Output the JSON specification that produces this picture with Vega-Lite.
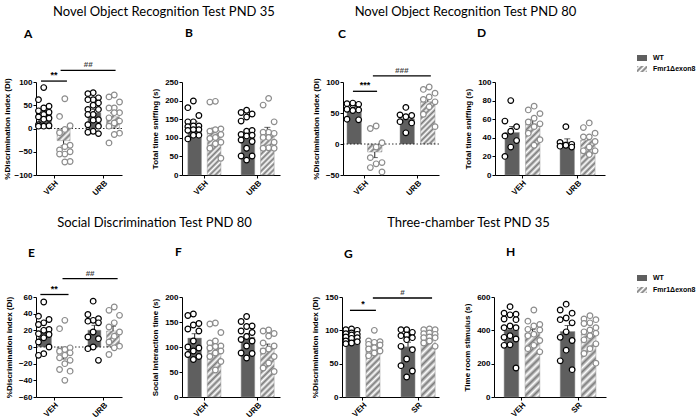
{
"$schema":"https://vega.github.io/schema/vega-lite/v6.json",
"padding":{"left":3,"top":6,"right":0,"bottom":0},
"config":{"view":{"stroke":null},
"axis":{"domainColor":"#000","domainWidth":1,"tickColor":"#000","tickSize":3,"labelColor":"#000","labelFont":"Liberation Sans","labelFontSize":8,"labelFontWeight":"bold","labelPadding":1,"titleFont":"Liberation Sans","titleFontSize":8,"titleFontWeight":"bold","titleColor":"#000","titlePadding":2,"grid":false,"labelOverlap":false},
"axisY":{"minExtent":21},
"axisX":{"labelAngle":-45,"labelAlign":"right","labelBaseline":"top"},
"title":{"font":"Lato","fontSize":13,"fontWeight":"normal","color":"#000","anchor":"middle","offset":8}},
"datasets":{
"A":[{"d":"VEH","g":"WT","v":88},{"d":"VEH","g":"WT","v":62},{"d":"VEH","g":"WT","v":48},{"d":"VEH","g":"WT","v":44},{"d":"VEH","g":"WT","v":38},{"d":"VEH","g":"WT","v":35},{"d":"VEH","g":"WT","v":30},{"d":"VEH","g":"WT","v":25},{"d":"VEH","g":"WT","v":22},{"d":"VEH","g":"WT","v":20},{"d":"VEH","g":"WT","v":8},{"d":"VEH","g":"WT","v":5},{"d":"VEH","g":"WT","v":5},{"d":"VEH","g":"WT","v":6},
{"d":"VEH","g":"KO","v":64},{"d":"VEH","g":"KO","v":26},{"d":"VEH","g":"KO","v":6},{"d":"VEH","g":"KO","v":-2},{"d":"VEH","g":"KO","v":-9},{"d":"VEH","g":"KO","v":-36},{"d":"VEH","g":"KO","v":-39},{"d":"VEH","g":"KO","v":-46},{"d":"VEH","g":"KO","v":-50},{"d":"VEH","g":"KO","v":-55},{"d":"VEH","g":"KO","v":-55},{"d":"VEH","g":"KO","v":-71},{"d":"VEH","g":"KO","v":-72},
{"d":"URB","g":"WT","v":77},{"d":"URB","g":"WT","v":75},{"d":"URB","g":"WT","v":66},{"d":"URB","g":"WT","v":62},{"d":"URB","g":"WT","v":62},{"d":"URB","g":"WT","v":55},{"d":"URB","g":"WT","v":50},{"d":"URB","g":"WT","v":41},{"d":"URB","g":"WT","v":41},{"d":"URB","g":"WT","v":30},{"d":"URB","g":"WT","v":30},{"d":"URB","g":"WT","v":19},{"d":"URB","g":"WT","v":18},{"d":"URB","g":"WT","v":8},{"d":"URB","g":"WT","v":5},{"d":"URB","g":"WT","v":-6},{"d":"URB","g":"WT","v":-8},{"d":"URB","g":"WT","v":-11},
{"d":"URB","g":"KO","v":72},{"d":"URB","g":"KO","v":68},{"d":"URB","g":"KO","v":57},{"d":"URB","g":"KO","v":44},{"d":"URB","g":"KO","v":44},{"d":"URB","g":"KO","v":34},{"d":"URB","g":"KO","v":34},{"d":"URB","g":"KO","v":23},{"d":"URB","g":"KO","v":16},{"d":"URB","g":"KO","v":12},{"d":"URB","g":"KO","v":5},{"d":"URB","g":"KO","v":-10},{"d":"URB","g":"KO","v":-13},{"d":"URB","g":"KO","v":-31}],
"B":[{"d":"VEH","g":"WT","v":199},{"d":"VEH","g":"WT","v":181},{"d":"VEH","g":"WT","v":160},{"d":"VEH","g":"WT","v":143},{"d":"VEH","g":"WT","v":143},{"d":"VEH","g":"WT","v":132},{"d":"VEH","g":"WT","v":130},{"d":"VEH","g":"WT","v":132},{"d":"VEH","g":"WT","v":122},{"d":"VEH","g":"WT","v":120},{"d":"VEH","g":"WT","v":122},{"d":"VEH","g":"WT","v":107},{"d":"VEH","g":"WT","v":107},{"d":"VEH","g":"WT","v":97},
{"d":"VEH","g":"KO","v":198},{"d":"VEH","g":"KO","v":196},{"d":"VEH","g":"KO","v":124},{"d":"VEH","g":"KO","v":122},{"d":"VEH","g":"KO","v":118},{"d":"VEH","g":"KO","v":109},{"d":"VEH","g":"KO","v":101},{"d":"VEH","g":"KO","v":98},{"d":"VEH","g":"KO","v":88},{"d":"VEH","g":"KO","v":84},{"d":"VEH","g":"KO","v":72},{"d":"VEH","g":"KO","v":45},
{"d":"URB","g":"WT","v":174},{"d":"URB","g":"WT","v":168},{"d":"URB","g":"WT","v":164},{"d":"URB","g":"WT","v":156},{"d":"URB","g":"WT","v":145},{"d":"URB","g":"WT","v":118},{"d":"URB","g":"WT","v":120},{"d":"URB","g":"WT","v":109},{"d":"URB","g":"WT","v":105},{"d":"URB","g":"WT","v":107},{"d":"URB","g":"WT","v":94},{"d":"URB","g":"WT","v":90},{"d":"URB","g":"WT","v":72},{"d":"URB","g":"WT","v":51},{"d":"URB","g":"WT","v":51},{"d":"URB","g":"WT","v":40},
{"d":"URB","g":"KO","v":206},{"d":"URB","g":"KO","v":188},{"d":"URB","g":"KO","v":143},{"d":"URB","g":"KO","v":115},{"d":"URB","g":"KO","v":115},{"d":"URB","g":"KO","v":112},{"d":"URB","g":"KO","v":101},{"d":"URB","g":"KO","v":101},{"d":"URB","g":"KO","v":88},{"d":"URB","g":"KO","v":73},{"d":"URB","g":"KO","v":72},{"d":"URB","g":"KO","v":72}],
"C":[{"d":"VEH","g":"WT","v":65},{"d":"VEH","g":"WT","v":63},{"d":"VEH","g":"WT","v":66},{"d":"VEH","g":"WT","v":64},{"d":"VEH","g":"WT","v":54},{"d":"VEH","g":"WT","v":55},{"d":"VEH","g":"WT","v":56},{"d":"VEH","g":"WT","v":39},{"d":"VEH","g":"WT","v":40},
{"d":"VEH","g":"KO","v":29},{"d":"VEH","g":"KO","v":25},{"d":"VEH","g":"KO","v":2},{"d":"VEH","g":"KO","v":-5},{"d":"VEH","g":"KO","v":-22},{"d":"VEH","g":"KO","v":-30},{"d":"VEH","g":"KO","v":-32},{"d":"VEH","g":"KO","v":-38},{"d":"VEH","g":"KO","v":-45},
{"d":"URB","g":"WT","v":59},{"d":"URB","g":"WT","v":47},{"d":"URB","g":"WT","v":46},{"d":"URB","g":"WT","v":44},{"d":"URB","g":"WT","v":36},{"d":"URB","g":"WT","v":34},{"d":"URB","g":"WT","v":18},
{"d":"URB","g":"KO","v":92},{"d":"URB","g":"KO","v":88},{"d":"URB","g":"KO","v":82},{"d":"URB","g":"KO","v":76},{"d":"URB","g":"KO","v":72},{"d":"URB","g":"KO","v":68},{"d":"URB","g":"KO","v":60},{"d":"URB","g":"KO","v":48},{"d":"URB","g":"KO","v":28}],
"D":[{"d":"VEH","g":"WT","v":80},{"d":"VEH","g":"WT","v":58},{"d":"VEH","g":"WT","v":52},{"d":"VEH","g":"WT","v":47},{"d":"VEH","g":"WT","v":42},{"d":"VEH","g":"WT","v":37},{"d":"VEH","g":"WT","v":30},{"d":"VEH","g":"WT","v":20},
{"d":"VEH","g":"KO","v":74},{"d":"VEH","g":"KO","v":70},{"d":"VEH","g":"KO","v":66},{"d":"VEH","g":"KO","v":61},{"d":"VEH","g":"KO","v":57},{"d":"VEH","g":"KO","v":55},{"d":"VEH","g":"KO","v":52},{"d":"VEH","g":"KO","v":45},{"d":"VEH","g":"KO","v":38},{"d":"VEH","g":"KO","v":32},
{"d":"URB","g":"WT","v":52},{"d":"URB","g":"WT","v":35},{"d":"URB","g":"WT","v":33},{"d":"URB","g":"WT","v":32},{"d":"URB","g":"WT","v":31},{"d":"URB","g":"WT","v":30},
{"d":"URB","g":"KO","v":56},{"d":"URB","g":"KO","v":51},{"d":"URB","g":"KO","v":45},{"d":"URB","g":"KO","v":41},{"d":"URB","g":"KO","v":41},{"d":"URB","g":"KO","v":36},{"d":"URB","g":"KO","v":30},{"d":"URB","g":"KO","v":26},{"d":"URB","g":"KO","v":26},{"d":"URB","g":"KO","v":22}],
"E":[{"d":"VEH","g":"WT","v":54},{"d":"VEH","g":"WT","v":37},{"d":"VEH","g":"WT","v":33},{"d":"VEH","g":"WT","v":29},{"d":"VEH","g":"WT","v":27},{"d":"VEH","g":"WT","v":21},{"d":"VEH","g":"WT","v":20},{"d":"VEH","g":"WT","v":16},{"d":"VEH","g":"WT","v":15},{"d":"VEH","g":"WT","v":11},{"d":"VEH","g":"WT","v":6},{"d":"VEH","g":"WT","v":0},{"d":"VEH","g":"WT","v":-8},{"d":"VEH","g":"WT","v":-10},
{"d":"VEH","g":"KO","v":32},{"d":"VEH","g":"KO","v":22},{"d":"VEH","g":"KO","v":-1},{"d":"VEH","g":"KO","v":-3},{"d":"VEH","g":"KO","v":-5},{"d":"VEH","g":"KO","v":-7},{"d":"VEH","g":"KO","v":-10},{"d":"VEH","g":"KO","v":-13},{"d":"VEH","g":"KO","v":-16},{"d":"VEH","g":"KO","v":-20},{"d":"VEH","g":"KO","v":-27},{"d":"VEH","g":"KO","v":-29},{"d":"VEH","g":"KO","v":-40},
{"d":"URB","g":"WT","v":55},{"d":"URB","g":"WT","v":39},{"d":"URB","g":"WT","v":34},{"d":"URB","g":"WT","v":32},{"d":"URB","g":"WT","v":31},{"d":"URB","g":"WT","v":29},{"d":"URB","g":"WT","v":18},{"d":"URB","g":"WT","v":12},{"d":"URB","g":"WT","v":10},{"d":"URB","g":"WT","v":0},{"d":"URB","g":"WT","v":-2},{"d":"URB","g":"WT","v":-16},
{"d":"URB","g":"KO","v":48},{"d":"URB","g":"KO","v":44},{"d":"URB","g":"KO","v":38},{"d":"URB","g":"KO","v":29},{"d":"URB","g":"KO","v":24},{"d":"URB","g":"KO","v":18},{"d":"URB","g":"KO","v":13},{"d":"URB","g":"KO","v":6},{"d":"URB","g":"KO","v":1},{"d":"URB","g":"KO","v":-1},{"d":"URB","g":"KO","v":-9}],
"F":[{"d":"VEH","g":"WT","v":166},{"d":"VEH","g":"WT","v":163},{"d":"VEH","g":"WT","v":147},{"d":"VEH","g":"WT","v":144},{"d":"VEH","g":"WT","v":136},{"d":"VEH","g":"WT","v":132},{"d":"VEH","g":"WT","v":112},{"d":"VEH","g":"WT","v":100},{"d":"VEH","g":"WT","v":98},{"d":"VEH","g":"WT","v":92},{"d":"VEH","g":"WT","v":85},{"d":"VEH","g":"WT","v":81},{"d":"VEH","g":"WT","v":75},
{"d":"VEH","g":"KO","v":148},{"d":"VEH","g":"KO","v":146},{"d":"VEH","g":"KO","v":129},{"d":"VEH","g":"KO","v":112},{"d":"VEH","g":"KO","v":108},{"d":"VEH","g":"KO","v":102},{"d":"VEH","g":"KO","v":101},{"d":"VEH","g":"KO","v":98},{"d":"VEH","g":"KO","v":92},{"d":"VEH","g":"KO","v":88},{"d":"VEH","g":"KO","v":81},{"d":"VEH","g":"KO","v":71},{"d":"VEH","g":"KO","v":54},
{"d":"URB","g":"WT","v":161},{"d":"URB","g":"WT","v":151},{"d":"URB","g":"WT","v":142},{"d":"URB","g":"WT","v":141},{"d":"URB","g":"WT","v":132},{"d":"URB","g":"WT","v":129},{"d":"URB","g":"WT","v":121},{"d":"URB","g":"WT","v":115},{"d":"URB","g":"WT","v":112},{"d":"URB","g":"WT","v":102},{"d":"URB","g":"WT","v":88},{"d":"URB","g":"WT","v":87},{"d":"URB","g":"WT","v":78},
{"d":"URB","g":"KO","v":134},{"d":"URB","g":"KO","v":132},{"d":"URB","g":"KO","v":127},{"d":"URB","g":"KO","v":122},{"d":"URB","g":"KO","v":108},{"d":"URB","g":"KO","v":102},{"d":"URB","g":"KO","v":96},{"d":"URB","g":"KO","v":92},{"d":"URB","g":"KO","v":81},{"d":"URB","g":"KO","v":68},{"d":"URB","g":"KO","v":58},{"d":"URB","g":"KO","v":51}],
"G":[{"d":"VEH","g":"WT","v":101},{"d":"VEH","g":"WT","v":102},{"d":"VEH","g":"WT","v":100},{"d":"VEH","g":"WT","v":95},{"d":"VEH","g":"WT","v":96},{"d":"VEH","g":"WT","v":94},{"d":"VEH","g":"WT","v":93},{"d":"VEH","g":"WT","v":89},{"d":"VEH","g":"WT","v":90},{"d":"VEH","g":"WT","v":88},{"d":"VEH","g":"WT","v":84},{"d":"VEH","g":"WT","v":83},{"d":"VEH","g":"WT","v":81},{"d":"VEH","g":"WT","v":80},
{"d":"VEH","g":"KO","v":100},{"d":"VEH","g":"KO","v":84},{"d":"VEH","g":"KO","v":83},{"d":"VEH","g":"KO","v":82},{"d":"VEH","g":"KO","v":79},{"d":"VEH","g":"KO","v":78},{"d":"VEH","g":"KO","v":74},{"d":"VEH","g":"KO","v":72},{"d":"VEH","g":"KO","v":69},{"d":"VEH","g":"KO","v":66},{"d":"VEH","g":"KO","v":62},
{"d":"SR","g":"WT","v":101},{"d":"SR","g":"WT","v":101},{"d":"SR","g":"WT","v":97},{"d":"SR","g":"WT","v":93},{"d":"SR","g":"WT","v":92},{"d":"SR","g":"WT","v":89},{"d":"SR","g":"WT","v":86},{"d":"SR","g":"WT","v":76},{"d":"SR","g":"WT","v":71},{"d":"SR","g":"WT","v":57},{"d":"SR","g":"WT","v":47},{"d":"SR","g":"WT","v":39},{"d":"SR","g":"WT","v":30},
{"d":"SR","g":"KO","v":102},{"d":"SR","g":"KO","v":101},{"d":"SR","g":"KO","v":101},{"d":"SR","g":"KO","v":96},{"d":"SR","g":"KO","v":95},{"d":"SR","g":"KO","v":94},{"d":"SR","g":"KO","v":90},{"d":"SR","g":"KO","v":89},{"d":"SR","g":"KO","v":89},{"d":"SR","g":"KO","v":84},{"d":"SR","g":"KO","v":81},{"d":"SR","g":"KO","v":76}],
"H":[{"d":"VEH","g":"WT","v":542},{"d":"VEH","g":"WT","v":503},{"d":"VEH","g":"WT","v":497},{"d":"VEH","g":"WT","v":493},{"d":"VEH","g":"WT","v":468},{"d":"VEH","g":"WT","v":464},{"d":"VEH","g":"WT","v":426},{"d":"VEH","g":"WT","v":416},{"d":"VEH","g":"WT","v":416},{"d":"VEH","g":"WT","v":368},{"d":"VEH","g":"WT","v":358},{"d":"VEH","g":"WT","v":348},{"d":"VEH","g":"WT","v":313},{"d":"VEH","g":"WT","v":310},{"d":"VEH","g":"WT","v":174},
{"d":"VEH","g":"KO","v":522},{"d":"VEH","g":"KO","v":455},{"d":"VEH","g":"KO","v":435},{"d":"VEH","g":"KO","v":426},{"d":"VEH","g":"KO","v":406},{"d":"VEH","g":"KO","v":402},{"d":"VEH","g":"KO","v":377},{"d":"VEH","g":"KO","v":368},{"d":"VEH","g":"KO","v":339},{"d":"VEH","g":"KO","v":310},{"d":"VEH","g":"KO","v":290},{"d":"VEH","g":"KO","v":271},
{"d":"SR","g":"WT","v":557},{"d":"SR","g":"WT","v":522},{"d":"SR","g":"WT","v":503},{"d":"SR","g":"WT","v":474},{"d":"SR","g":"WT","v":464},{"d":"SR","g":"WT","v":445},{"d":"SR","g":"WT","v":391},{"d":"SR","g":"WT","v":358},{"d":"SR","g":"WT","v":339},{"d":"SR","g":"WT","v":281},{"d":"SR","g":"WT","v":217},{"d":"SR","g":"WT","v":164},
{"d":"SR","g":"KO","v":488},{"d":"SR","g":"KO","v":468},{"d":"SR","g":"KO","v":464},{"d":"SR","g":"KO","v":445},{"d":"SR","g":"KO","v":441},{"d":"SR","g":"KO","v":416},{"d":"SR","g":"KO","v":402},{"d":"SR","g":"KO","v":391},{"d":"SR","g":"KO","v":383},{"d":"SR","g":"KO","v":368},{"d":"SR","g":"KO","v":343},{"d":"SR","g":"KO","v":319},{"d":"SR","g":"KO","v":290},{"d":"SR","g":"KO","v":261},{"d":"SR","g":"KO","v":203}],
"sA":[{"s":"**","d1":"VEH","d2":"VEH"},{"s":"##","d1":"VEH","d2":"URB"}],
"sC":[{"s":"***","d1":"VEH","d2":"VEH"},{"s":"###","d1":"VEH","d2":"URB"}],
"sE":[{"s":"**","d1":"VEH","d2":"VEH"},{"s":"##","d1":"VEH","d2":"URB"}],
"sG":[{"s":"*","d1":"VEH","d2":"VEH"},{"s":"#","d1":"VEH","d2":"SR"}],
"leg":[{"k":"WT"},{"k":"Fmr1Δexon8"}]
},
"vconcat":[
{"spacing":32,"hconcat":[
{"title":{"text":"Novel Object Recognition Test PND 35","anchor":"middle","frame":"bounds","dx":22,"fontSize":13,"font":"Lato","fontWeight":"normal","offset":8},"bounds":"flush","spacing":60,"hconcat":[
{"width":86,"height":93,"title":{"text":"A","anchor":"start","frame":"group","dx":-12,"offset":20,"fontSize":12,"fontWeight":"bold"},
"data":{"name":"A"},"resolve":{"scale":{"xOffset":"independent"}},
"layer":[
{"mark":{"type":"bar","stroke":"#999","strokeWidth":0.5},"encoding":{"x":{"field":"d","type":"nominal","scale":{"domain":["VEH","URB"],"paddingInner":0.36,"paddingOuter":0.05},"axis":{"labelAngle":-45,"labelAlign":"right","labelBaseline":"top","labelOverlap":false,"title":null}},"xOffset":{"field":"g","type":"nominal","scale":{"domain":["WT","KO"],"paddingInner":0.3,"paddingOuter":0}},"y":{"aggregate":"mean","field":"v","type":"quantitative","scale":{"domain":[-100,100],"nice":false},"axis":{"values":[-100,-50,0,50,100],"tickCount":12,"labelOverlap":false,"title":"%Discrimination index (DI)"}},
"fill":{"condition":[{"test":"datum.g==='WT'","value":"#5f5f5f"},{"test":"datum.d==='VEH'","value":{"gradient":"linear","x1":0,"y1":0,"x2":1.035,"y2":0.963,"stops":[{"offset":0,"color":"#7a7a7a"},{"offset":0.125,"color":"#fff"},{"offset":0.25,"color":"#7a7a7a"},{"offset":0.375,"color":"#fff"},{"offset":0.5,"color":"#7a7a7a"},{"offset":0.625,"color":"#fff"},{"offset":0.75,"color":"#7a7a7a"},{"offset":0.875,"color":"#fff"},{"offset":1,"color":"#7a7a7a"}]}}],
"value":{"gradient":"linear","x1":0,"y1":0,"x2":1.046,"y2":0.95,"stops":[{"offset":0,"color":"#7a7a7a"},{"offset":0.125,"color":"#fff"},{"offset":0.25,"color":"#7a7a7a"},{"offset":0.375,"color":"#fff"},{"offset":0.5,"color":"#7a7a7a"},{"offset":0.625,"color":"#fff"},{"offset":0.75,"color":"#7a7a7a"},{"offset":0.875,"color":"#fff"},{"offset":1,"color":"#7a7a7a"}]}}}},
{"transform":[{"aggregate":[{"op":"mean","field":"v","as":"m"},{"op":"stderr","field":"v","as":"se"}],"groupby":["d","g"]},{"calculate":"datum.m + (datum.m < 0 ? -datum.se : datum.se)","as":"hi"}],
"encoding":{"x":{"field":"d","type":"nominal"},"xOffset":{"field":"g","type":"nominal","scale":{"domain":["WT","KO"],"paddingInner":0.3,"paddingOuter":0}}},
"layer":[{"mark":{"type":"rule","color":"#222","strokeWidth":1},"encoding":{"y":{"field":"m","type":"quantitative"},"y2":{"field":"hi"}}},{"mark":{"type":"tick","color":"#222","thickness":1,"size":6},"encoding":{"y":{"field":"hi","type":"quantitative"}}}]},
{"transform":[{"aggregate":[{"op":"count","as":"n"}]}],"mark":{"type":"rule","strokeDash":[1.5,2],"color":"#000","strokeWidth":0.8},"encoding":{"y":{"datum":0}}},
{"transform":[{"window":[{"op":"row_number","as":"rn"}],"groupby":["d","g"],"sort":[{"field":"v","order":"descending"}]},{"calculate":"datum.g + '_' + (datum.rn % 3)","as":"col"}],
"mark":{"type":"point","filled":true,"fill":"#fff","size":32,"strokeWidth":1.2,"opacity":1},
"encoding":{"x":{"field":"d","type":"nominal"},"xOffset":{"field":"col","type":"nominal","scale":{"domain":["WT_2","WT_1","WT_0","gap","KO_2","KO_1","KO_0"],"paddingInner":0,"paddingOuter":0}},"y":{"field":"v","type":"quantitative"},"stroke":{"condition":{"test":"datum.g==='WT'","value":"#000"},"value":"#8c8c8c"}}},
{"data":{"name":"sA"},"transform":[{"filter":"datum.s==='**'"}],"encoding":{"y":{"datum":102}},"layer":[
{"mark":{"type":"rule","strokeWidth":1.3,"color":"#000"},"encoding":{"x":{"field":"d1","type":"nominal","bandPosition":0.08},"x2":{"field":"d2","bandPosition":0.9}}},
{"mark":{"type":"text","baseline":"bottom","dy":-1,"fontSize":9,"fontWeight":"bold","font":"Liberation Sans"},"encoding":{"x":{"field":"d1","type":"nominal","bandPosition":0.49},"text":{"field":"s"}}}]},
{"data":{"name":"sA"},"transform":[{"filter":"datum.s==='##'"}],"encoding":{"y":{"datum":125}},"layer":[
{"mark":{"type":"rule","strokeWidth":1.3,"color":"#000"},"encoding":{"x":{"field":"d1","type":"nominal","bandPosition":0.7},"x2":{"field":"d2","bandPosition":0.875}}},
{"mark":{"type":"text","baseline":"bottom","dy":-1,"fontSize":8,"fontWeight":"bold","color":"#444","font":"Liberation Sans"},"encoding":{"x":{"field":"d2","type":"nominal","bandPosition":0.01},"text":{"field":"s"}}}]}
]},
{"width":98,"height":93,"title":{"text":"B","anchor":"start","frame":"group","dx":3,"offset":38,"fontSize":12,"fontWeight":"bold"},
"data":{"name":"B"},"resolve":{"scale":{"xOffset":"independent"}},
"layer":[
{"mark":{"type":"bar","stroke":"#999","strokeWidth":0.5},"encoding":{"x":{"field":"d","type":"nominal","scale":{"domain":["VEH","URB"],"paddingInner":0.38,"paddingOuter":0.11},"axis":{"labelAngle":-45,"labelAlign":"right","labelBaseline":"top","labelOverlap":false,"title":null}},"xOffset":{"field":"g","type":"nominal","scale":{"domain":["WT","KO"],"paddingInner":0.3,"paddingOuter":0}},"y":{"aggregate":"mean","field":"v","type":"quantitative","scale":{"domain":[0,250],"nice":false},"axis":{"values":[0,50,100,150,200,250],"tickCount":12,"labelOverlap":false,"title":"Total time sniffing (s)"}},
"fill":{"condition":[{"test":"datum.g==='WT'","value":"#5f5f5f"},{"test":"datum.d==='VEH'","value":{"gradient":"linear","x1":0,"y1":0,"x2":0.388,"y2":1.198,"stops":[{"offset":0,"color":"#7a7a7a"},{"offset":0.05,"color":"#fff"},{"offset":0.1,"color":"#7a7a7a"},{"offset":0.15,"color":"#fff"},{"offset":0.2,"color":"#7a7a7a"},{"offset":0.25,"color":"#fff"},{"offset":0.3,"color":"#7a7a7a"},{"offset":0.35,"color":"#fff"},{"offset":0.4,"color":"#7a7a7a"},{"offset":0.45,"color":"#fff"},{"offset":0.5,"color":"#7a7a7a"},{"offset":0.55,"color":"#fff"},{"offset":0.6,"color":"#7a7a7a"},{"offset":0.65,"color":"#fff"},{"offset":0.7,"color":"#7a7a7a"},{"offset":0.75,"color":"#fff"},{"offset":0.8,"color":"#7a7a7a"},{"offset":0.85,"color":"#fff"},{"offset":0.9,"color":"#7a7a7a"},{"offset":0.95,"color":"#fff"},{"offset":1,"color":"#7a7a7a"}]}}],
"value":{"gradient":"linear","x1":0,"y1":0,"x2":0.379,"y2":1.197,"stops":[{"offset":0,"color":"#7a7a7a"},{"offset":0.05,"color":"#fff"},{"offset":0.1,"color":"#7a7a7a"},{"offset":0.15,"color":"#fff"},{"offset":0.2,"color":"#7a7a7a"},{"offset":0.25,"color":"#fff"},{"offset":0.3,"color":"#7a7a7a"},{"offset":0.35,"color":"#fff"},{"offset":0.4,"color":"#7a7a7a"},{"offset":0.45,"color":"#fff"},{"offset":0.5,"color":"#7a7a7a"},{"offset":0.55,"color":"#fff"},{"offset":0.6,"color":"#7a7a7a"},{"offset":0.65,"color":"#fff"},{"offset":0.7,"color":"#7a7a7a"},{"offset":0.75,"color":"#fff"},{"offset":0.8,"color":"#7a7a7a"},{"offset":0.85,"color":"#fff"},{"offset":0.9,"color":"#7a7a7a"},{"offset":0.95,"color":"#fff"},{"offset":1,"color":"#7a7a7a"}]}}}},
{"transform":[{"aggregate":[{"op":"mean","field":"v","as":"m"},{"op":"stderr","field":"v","as":"se"}],"groupby":["d","g"]},{"calculate":"datum.m + (datum.m < 0 ? -datum.se : datum.se)","as":"hi"}],
"encoding":{"x":{"field":"d","type":"nominal"},"xOffset":{"field":"g","type":"nominal","scale":{"domain":["WT","KO"],"paddingInner":0.3,"paddingOuter":0}}},
"layer":[{"mark":{"type":"rule","color":"#222","strokeWidth":1},"encoding":{"y":{"field":"m","type":"quantitative"},"y2":{"field":"hi"}}},{"mark":{"type":"tick","color":"#222","thickness":1,"size":6},"encoding":{"y":{"field":"hi","type":"quantitative"}}}]},
{"transform":[{"window":[{"op":"row_number","as":"rn"}],"groupby":["d","g"],"sort":[{"field":"v","order":"descending"}]},{"calculate":"datum.g + '_' + (datum.rn % 3)","as":"col"}],
"mark":{"type":"point","filled":true,"fill":"#fff","size":32,"strokeWidth":1.2,"opacity":1},
"encoding":{"x":{"field":"d","type":"nominal"},"xOffset":{"field":"col","type":"nominal","scale":{"domain":["WT_2","WT_1","WT_0","gap","KO_2","KO_1","KO_0"],"paddingInner":0,"paddingOuter":0}},"y":{"field":"v","type":"quantitative"},"stroke":{"condition":{"test":"datum.g==='WT'","value":"#000"},"value":"#8c8c8c"}}}
]}
]},
{"title":{"text":"Novel Object Recognition Test PND 80","anchor":"middle","frame":"bounds","dx":7,"fontSize":13,"font":"Lato","fontWeight":"normal","offset":8},"bounds":"flush","spacing":56,"hconcat":[
{"width":96,"height":93,"title":{"text":"C","anchor":"start","frame":"group","dx":-5,"offset":26,"fontSize":12,"fontWeight":"bold"},
"data":{"name":"C"},"resolve":{"scale":{"xOffset":"independent"}},
"layer":[
{"mark":{"type":"bar","stroke":"#999","strokeWidth":0.5},"encoding":{"x":{"field":"d","type":"nominal","scale":{"domain":["VEH","URB"],"paddingInner":0.34,"paddingOuter":0.075},"axis":{"labelAngle":-45,"labelAlign":"right","labelBaseline":"top","labelOverlap":false,"title":null}},"xOffset":{"field":"g","type":"nominal","scale":{"domain":["WT","KO"],"paddingInner":0.3,"paddingOuter":0}},"y":{"aggregate":"mean","field":"v","type":"quantitative","scale":{"domain":[-50,100],"nice":false},"axis":{"values":[-50,0,50,100],"tickCount":12,"labelOverlap":false,"title":"%Discrimination index (DI)"}},
"fill":{"condition":[{"test":"datum.g==='WT'","value":"#5f5f5f"},{"test":"datum.d==='VEH'","value":{"gradient":"linear","x1":0,"y1":0,"x2":1.189,"y2":0.661,"stops":[{"offset":0,"color":"#7a7a7a"},{"offset":0.125,"color":"#fff"},{"offset":0.25,"color":"#7a7a7a"},{"offset":0.375,"color":"#fff"},{"offset":0.5,"color":"#7a7a7a"},{"offset":0.625,"color":"#fff"},{"offset":0.75,"color":"#7a7a7a"},{"offset":0.875,"color":"#fff"},{"offset":1,"color":"#7a7a7a"}]}}],
"value":{"gradient":"linear","x1":0,"y1":0,"x2":0.409,"y2":1.2,"stops":[{"offset":0,"color":"#7a7a7a"},{"offset":0.05,"color":"#fff"},{"offset":0.1,"color":"#7a7a7a"},{"offset":0.15,"color":"#fff"},{"offset":0.2,"color":"#7a7a7a"},{"offset":0.25,"color":"#fff"},{"offset":0.3,"color":"#7a7a7a"},{"offset":0.35,"color":"#fff"},{"offset":0.4,"color":"#7a7a7a"},{"offset":0.45,"color":"#fff"},{"offset":0.5,"color":"#7a7a7a"},{"offset":0.55,"color":"#fff"},{"offset":0.6,"color":"#7a7a7a"},{"offset":0.65,"color":"#fff"},{"offset":0.7,"color":"#7a7a7a"},{"offset":0.75,"color":"#fff"},{"offset":0.8,"color":"#7a7a7a"},{"offset":0.85,"color":"#fff"},{"offset":0.9,"color":"#7a7a7a"},{"offset":0.95,"color":"#fff"},{"offset":1,"color":"#7a7a7a"}]}}}},
{"transform":[{"aggregate":[{"op":"mean","field":"v","as":"m"},{"op":"stderr","field":"v","as":"se"}],"groupby":["d","g"]},{"calculate":"datum.m + (datum.m < 0 ? -datum.se : datum.se)","as":"hi"}],
"encoding":{"x":{"field":"d","type":"nominal"},"xOffset":{"field":"g","type":"nominal","scale":{"domain":["WT","KO"],"paddingInner":0.3,"paddingOuter":0}}},
"layer":[{"mark":{"type":"rule","color":"#222","strokeWidth":1},"encoding":{"y":{"field":"m","type":"quantitative"},"y2":{"field":"hi"}}},{"mark":{"type":"tick","color":"#222","thickness":1,"size":6},"encoding":{"y":{"field":"hi","type":"quantitative"}}}]},
{"transform":[{"aggregate":[{"op":"count","as":"n"}]}],"mark":{"type":"rule","strokeDash":[1.5,2],"color":"#000","strokeWidth":0.8},"encoding":{"y":{"datum":0}}},
{"transform":[{"window":[{"op":"row_number","as":"rn"}],"groupby":["d","g"],"sort":[{"field":"v","order":"descending"}]},{"calculate":"datum.g + '_' + (datum.rn % 3)","as":"col"}],
"mark":{"type":"point","filled":true,"fill":"#fff","size":32,"strokeWidth":1.2,"opacity":1},
"encoding":{"x":{"field":"d","type":"nominal"},"xOffset":{"field":"col","type":"nominal","scale":{"domain":["WT_2","WT_1","WT_0","gap","KO_2","KO_1","KO_0"],"paddingInner":0,"paddingOuter":0}},"y":{"field":"v","type":"quantitative"},"stroke":{"condition":{"test":"datum.g==='WT'","value":"#000"},"value":"#8c8c8c"}}},
{"data":{"name":"sC"},"transform":[{"filter":"datum.s==='***'"}],"encoding":{"y":{"datum":85}},"layer":[
{"mark":{"type":"rule","strokeWidth":1.3,"color":"#000"},"encoding":{"x":{"field":"d1","type":"nominal","bandPosition":0.17},"x2":{"field":"d2","bandPosition":0.86}}},
{"mark":{"type":"text","baseline":"bottom","dy":-1,"fontSize":9,"fontWeight":"bold","font":"Liberation Sans"},"encoding":{"x":{"field":"d1","type":"nominal","bandPosition":0.515},"text":{"field":"s"}}}]},
{"data":{"name":"sC"},"transform":[{"filter":"datum.s==='###'"}],"encoding":{"y":{"datum":110}},"layer":[
{"mark":{"type":"rule","strokeWidth":1.3,"color":"#000"},"encoding":{"x":{"field":"d1","type":"nominal","bandPosition":0.74},"x2":{"field":"d2","bandPosition":0.88}}},
{"mark":{"type":"text","baseline":"bottom","dy":-1,"fontSize":8,"fontWeight":"bold","fontStyle":"italic","color":"#444","font":"Liberation Sans"},"encoding":{"x":{"field":"d2","type":"nominal","bandPosition":0.05},"text":{"field":"s"}}}]}
]},
{"width":110,"height":93,"title":{"text":"D","anchor":"start","frame":"group","dx":-18,"offset":38,"fontSize":12,"fontWeight":"bold"},
"data":{"name":"D"},"resolve":{"scale":{"xOffset":"independent"}},
"layer":[
{"mark":{"type":"bar","stroke":"#999","strokeWidth":0.5},"encoding":{"x":{"field":"d","type":"nominal","scale":{"domain":["VEH","URB"],"paddingInner":0.364,"paddingOuter":0.18},"axis":{"labelAngle":-45,"labelAlign":"right","labelBaseline":"top","labelOverlap":false,"title":null}},"xOffset":{"field":"g","type":"nominal","scale":{"domain":["WT","KO"],"paddingInner":0.3,"paddingOuter":0}},"y":{"aggregate":"mean","field":"v","type":"quantitative","scale":{"domain":[0,100],"nice":false},"axis":{"values":[0,20,40,60,80,100],"tickCount":12,"labelOverlap":false,"title":"Total time sniffing (s)"}},
"fill":{"condition":[{"test":"datum.g==='WT'","value":"#5f5f5f"},{"test":"datum.d==='VEH'","value":{"gradient":"linear","x1":0,"y1":0,"x2":0.336,"y2":1.19,"stops":[{"offset":0,"color":"#7a7a7a"},{"offset":0.05,"color":"#fff"},{"offset":0.1,"color":"#7a7a7a"},{"offset":0.15,"color":"#fff"},{"offset":0.2,"color":"#7a7a7a"},{"offset":0.25,"color":"#fff"},{"offset":0.3,"color":"#7a7a7a"},{"offset":0.35,"color":"#fff"},{"offset":0.4,"color":"#7a7a7a"},{"offset":0.45,"color":"#fff"},{"offset":0.5,"color":"#7a7a7a"},{"offset":0.55,"color":"#fff"},{"offset":0.6,"color":"#7a7a7a"},{"offset":0.65,"color":"#fff"},{"offset":0.7,"color":"#7a7a7a"},{"offset":0.75,"color":"#fff"},{"offset":0.8,"color":"#7a7a7a"},{"offset":0.85,"color":"#fff"},{"offset":0.9,"color":"#7a7a7a"},{"offset":0.95,"color":"#fff"},{"offset":1,"color":"#7a7a7a"}]}}],
"value":{"gradient":"linear","x1":0,"y1":0,"x2":0.5,"y2":1.21,"stops":[{"offset":0,"color":"#7a7a7a"},{"offset":0.0625,"color":"#fff"},{"offset":0.125,"color":"#7a7a7a"},{"offset":0.1875,"color":"#fff"},{"offset":0.25,"color":"#7a7a7a"},{"offset":0.3125,"color":"#fff"},{"offset":0.375,"color":"#7a7a7a"},{"offset":0.4375,"color":"#fff"},{"offset":0.5,"color":"#7a7a7a"},{"offset":0.5625,"color":"#fff"},{"offset":0.625,"color":"#7a7a7a"},{"offset":0.6875,"color":"#fff"},{"offset":0.75,"color":"#7a7a7a"},{"offset":0.8125,"color":"#fff"},{"offset":0.875,"color":"#7a7a7a"},{"offset":0.9375,"color":"#fff"},{"offset":1,"color":"#7a7a7a"}]}}}},
{"transform":[{"aggregate":[{"op":"mean","field":"v","as":"m"},{"op":"stderr","field":"v","as":"se"}],"groupby":["d","g"]},{"calculate":"datum.m + (datum.m < 0 ? -datum.se : datum.se)","as":"hi"}],
"encoding":{"x":{"field":"d","type":"nominal"},"xOffset":{"field":"g","type":"nominal","scale":{"domain":["WT","KO"],"paddingInner":0.3,"paddingOuter":0}}},
"layer":[{"mark":{"type":"rule","color":"#222","strokeWidth":1},"encoding":{"y":{"field":"m","type":"quantitative"},"y2":{"field":"hi"}}},{"mark":{"type":"tick","color":"#222","thickness":1,"size":6},"encoding":{"y":{"field":"hi","type":"quantitative"}}}]},
{"transform":[{"window":[{"op":"row_number","as":"rn"}],"groupby":["d","g"],"sort":[{"field":"v","order":"descending"}]},{"calculate":"datum.g + '_' + (datum.rn % 3)","as":"col"}],
"mark":{"type":"point","filled":true,"fill":"#fff","size":32,"strokeWidth":1.2,"opacity":1},
"encoding":{"x":{"field":"d","type":"nominal"},"xOffset":{"field":"col","type":"nominal","scale":{"domain":["WT_2","WT_1","WT_0","gap","KO_2","KO_1","KO_0"],"paddingInner":0,"paddingOuter":0}},"y":{"field":"v","type":"quantitative"},"stroke":{"condition":{"test":"datum.g==='WT'","value":"#000"},"value":"#8c8c8c"}}}
]}
]},
{"width":10,"height":10,"data":{"name":"leg"},"layer":[
{"mark":{"type":"point","shape":"M-1,-0.6L1,-0.6L1,0.6L-1,0.6Z","size":100,"filled":true,"strokeWidth":0,"opacity":1},"encoding":{"y":{"field":"k","type":"nominal","sort":["WT","Fmr1Δexon8"],"scale":{"type":"point","range":[-24,-13],"padding":0},"axis":null},
"fill":{"condition":{"test":"datum.k==='WT'","value":"#5f5f5f"},"value":{"gradient":"linear","x1":0,"y1":0,"x2":1.176,"y2":0.706,"stops":[{"offset":0,"color":"#7a7a7a"},{"offset":0.1667,"color":"#fff"},{"offset":0.3333,"color":"#7a7a7a"},{"offset":0.5,"color":"#fff"},{"offset":0.6667,"color":"#7a7a7a"},{"offset":0.8333,"color":"#fff"},{"offset":1,"color":"#7a7a7a"}]}}}},
{"mark":{"type":"text","align":"left","dx":11,"fontSize":7,"fontWeight":"bold","font":"Liberation Sans","color":"#000"},"encoding":{"y":{"field":"k","type":"nominal","sort":["WT","Fmr1Δexon8"]},"text":{"field":"k"},"fontStyle":{"condition":{"test":"datum.k==='WT'","value":"normal"},"value":"italic"}}}
]}
]},
{"spacing":31,"hconcat":[
{"title":{"text":"Social Discrimination Test PND 80","anchor":"middle","frame":"bounds","dx":12,"fontSize":13,"font":"Lato","fontWeight":"normal","offset":16},"bounds":"flush","spacing":60,"hconcat":[
{"width":86,"height":100,"title":{"text":"E","anchor":"start","frame":"group","dx":-8,"offset":10,"fontSize":12,"fontWeight":"bold"},
"data":{"name":"E"},"resolve":{"scale":{"xOffset":"independent"}},
"layer":[
{"mark":{"type":"bar","stroke":"#999","strokeWidth":0.5},"encoding":{"x":{"field":"d","type":"nominal","scale":{"domain":["VEH","URB"],"paddingInner":0.36,"paddingOuter":0.05},"axis":{"labelAngle":-45,"labelAlign":"right","labelBaseline":"top","labelOverlap":false,"title":null}},"xOffset":{"field":"g","type":"nominal","scale":{"domain":["WT","KO"],"paddingInner":0.3,"paddingOuter":0}},"y":{"aggregate":"mean","field":"v","type":"quantitative","scale":{"domain":[-60,60],"nice":false},"axis":{"values":[-60,-40,-20,0,20,40,60],"tickCount":12,"labelOverlap":false,"title":"%Discrimination index (DI)"}},
"fill":{"condition":[{"test":"datum.g==='WT'","value":"#5f5f5f"},{"test":"datum.d==='VEH'","value":{"gradient":"linear","x1":0,"y1":0,"x2":1.183,"y2":0.683,"stops":[{"offset":0,"color":"#7a7a7a"},{"offset":0.1667,"color":"#fff"},{"offset":0.3333,"color":"#7a7a7a"},{"offset":0.5,"color":"#fff"},{"offset":0.6667,"color":"#7a7a7a"},{"offset":0.8333,"color":"#fff"},{"offset":1,"color":"#7a7a7a"}]}}],
"value":{"gradient":"linear","x1":0,"y1":0,"x2":0.887,"y2":1.092,"stops":[{"offset":0,"color":"#7a7a7a"},{"offset":0.1,"color":"#fff"},{"offset":0.2,"color":"#7a7a7a"},{"offset":0.3,"color":"#fff"},{"offset":0.4,"color":"#7a7a7a"},{"offset":0.5,"color":"#fff"},{"offset":0.6,"color":"#7a7a7a"},{"offset":0.7,"color":"#fff"},{"offset":0.8,"color":"#7a7a7a"},{"offset":0.9,"color":"#fff"},{"offset":1,"color":"#7a7a7a"}]}}}},
{"transform":[{"aggregate":[{"op":"mean","field":"v","as":"m"},{"op":"stderr","field":"v","as":"se"}],"groupby":["d","g"]},{"calculate":"datum.m + (datum.m < 0 ? -datum.se : datum.se)","as":"hi"}],
"encoding":{"x":{"field":"d","type":"nominal"},"xOffset":{"field":"g","type":"nominal","scale":{"domain":["WT","KO"],"paddingInner":0.3,"paddingOuter":0}}},
"layer":[{"mark":{"type":"rule","color":"#222","strokeWidth":1},"encoding":{"y":{"field":"m","type":"quantitative"},"y2":{"field":"hi"}}},{"mark":{"type":"tick","color":"#222","thickness":1,"size":6},"encoding":{"y":{"field":"hi","type":"quantitative"}}}]},
{"transform":[{"aggregate":[{"op":"count","as":"n"}]}],"mark":{"type":"rule","strokeDash":[1.5,2],"color":"#000","strokeWidth":0.8},"encoding":{"y":{"datum":0}}},
{"transform":[{"window":[{"op":"row_number","as":"rn"}],"groupby":["d","g"],"sort":[{"field":"v","order":"descending"}]},{"calculate":"datum.g + '_' + (datum.rn % 3)","as":"col"}],
"mark":{"type":"point","filled":true,"fill":"#fff","size":32,"strokeWidth":1.2,"opacity":1},
"encoding":{"x":{"field":"d","type":"nominal"},"xOffset":{"field":"col","type":"nominal","scale":{"domain":["WT_2","WT_1","WT_0","gap","KO_2","KO_1","KO_0"],"paddingInner":0,"paddingOuter":0}},"y":{"field":"v","type":"quantitative"},"stroke":{"condition":{"test":"datum.g==='WT'","value":"#000"},"value":"#8c8c8c"}}},
{"data":{"name":"sE"},"transform":[{"filter":"datum.s==='**'"}],"encoding":{"y":{"datum":63}},"layer":[
{"mark":{"type":"rule","strokeWidth":1.3,"color":"#000"},"encoding":{"x":{"field":"d1","type":"nominal","bandPosition":0.06},"x2":{"field":"d2","bandPosition":0.95}}},
{"mark":{"type":"text","baseline":"bottom","dy":-1,"fontSize":9,"fontWeight":"bold","font":"Liberation Sans"},"encoding":{"x":{"field":"d1","type":"nominal","bandPosition":0.5},"text":{"field":"s"}}}]},
{"data":{"name":"sE"},"transform":[{"filter":"datum.s==='##'"}],"encoding":{"y":{"datum":82}},"layer":[
{"mark":{"type":"rule","strokeWidth":1.3,"color":"#000"},"encoding":{"x":{"field":"d1","type":"nominal","bandPosition":0.76},"x2":{"field":"d2","bandPosition":0.94}}},
{"mark":{"type":"text","baseline":"bottom","dy":-1,"fontSize":8,"fontWeight":"bold","color":"#444","font":"Liberation Sans"},"encoding":{"x":{"field":"d2","type":"nominal","bandPosition":0.07},"text":{"field":"s"}}}]}
]},
{"width":98,"height":100,"title":{"text":"F","anchor":"start","frame":"group","dx":-7,"offset":34,"fontSize":12,"fontWeight":"bold"},
"data":{"name":"F"},"resolve":{"scale":{"xOffset":"independent"}},
"layer":[
{"mark":{"type":"bar","stroke":"#999","strokeWidth":0.5},"encoding":{"x":{"field":"d","type":"nominal","scale":{"domain":["VEH","URB"],"paddingInner":0.38,"paddingOuter":0.11},"axis":{"labelAngle":-45,"labelAlign":"right","labelBaseline":"top","labelOverlap":false,"title":null}},"xOffset":{"field":"g","type":"nominal","scale":{"domain":["WT","KO"],"paddingInner":0.3,"paddingOuter":0}},"y":{"aggregate":"mean","field":"v","type":"quantitative","scale":{"domain":[0,200],"nice":false},"axis":{"values":[0,50,100,150,200],"tickCount":12,"labelOverlap":false,"title":"Social Interaction time (s)"}},
"fill":{"condition":[{"test":"datum.g==='WT'","value":"#5f5f5f"},{"test":"datum.d==='VEH'","value":{"gradient":"linear","x1":0,"y1":0,"x2":0.315,"y2":1.183,"stops":[{"offset":0,"color":"#7a7a7a"},{"offset":0.05,"color":"#fff"},{"offset":0.1,"color":"#7a7a7a"},{"offset":0.15,"color":"#fff"},{"offset":0.2,"color":"#7a7a7a"},{"offset":0.25,"color":"#fff"},{"offset":0.3,"color":"#7a7a7a"},{"offset":0.35,"color":"#fff"},{"offset":0.4,"color":"#7a7a7a"},{"offset":0.45,"color":"#fff"},{"offset":0.5,"color":"#7a7a7a"},{"offset":0.55,"color":"#fff"},{"offset":0.6,"color":"#7a7a7a"},{"offset":0.65,"color":"#fff"},{"offset":0.7,"color":"#7a7a7a"},{"offset":0.75,"color":"#fff"},{"offset":0.8,"color":"#7a7a7a"},{"offset":0.85,"color":"#fff"},{"offset":0.9,"color":"#7a7a7a"},{"offset":0.95,"color":"#fff"},{"offset":1,"color":"#7a7a7a"}]}}],
"value":{"gradient":"linear","x1":0,"y1":0,"x2":0.33,"y2":1.186,"stops":[{"offset":0,"color":"#7a7a7a"},{"offset":0.05,"color":"#fff"},{"offset":0.1,"color":"#7a7a7a"},{"offset":0.15,"color":"#fff"},{"offset":0.2,"color":"#7a7a7a"},{"offset":0.25,"color":"#fff"},{"offset":0.3,"color":"#7a7a7a"},{"offset":0.35,"color":"#fff"},{"offset":0.4,"color":"#7a7a7a"},{"offset":0.45,"color":"#fff"},{"offset":0.5,"color":"#7a7a7a"},{"offset":0.55,"color":"#fff"},{"offset":0.6,"color":"#7a7a7a"},{"offset":0.65,"color":"#fff"},{"offset":0.7,"color":"#7a7a7a"},{"offset":0.75,"color":"#fff"},{"offset":0.8,"color":"#7a7a7a"},{"offset":0.85,"color":"#fff"},{"offset":0.9,"color":"#7a7a7a"},{"offset":0.95,"color":"#fff"},{"offset":1,"color":"#7a7a7a"}]}}}},
{"transform":[{"aggregate":[{"op":"mean","field":"v","as":"m"},{"op":"stderr","field":"v","as":"se"}],"groupby":["d","g"]},{"calculate":"datum.m + (datum.m < 0 ? -datum.se : datum.se)","as":"hi"}],
"encoding":{"x":{"field":"d","type":"nominal"},"xOffset":{"field":"g","type":"nominal","scale":{"domain":["WT","KO"],"paddingInner":0.3,"paddingOuter":0}}},
"layer":[{"mark":{"type":"rule","color":"#222","strokeWidth":1},"encoding":{"y":{"field":"m","type":"quantitative"},"y2":{"field":"hi"}}},{"mark":{"type":"tick","color":"#222","thickness":1,"size":6},"encoding":{"y":{"field":"hi","type":"quantitative"}}}]},
{"transform":[{"window":[{"op":"row_number","as":"rn"}],"groupby":["d","g"],"sort":[{"field":"v","order":"descending"}]},{"calculate":"datum.g + '_' + (datum.rn % 3)","as":"col"}],
"mark":{"type":"point","filled":true,"fill":"#fff","size":32,"strokeWidth":1.2,"opacity":1},
"encoding":{"x":{"field":"d","type":"nominal"},"xOffset":{"field":"col","type":"nominal","scale":{"domain":["WT_2","WT_1","WT_0","gap","KO_2","KO_1","KO_0"],"paddingInner":0,"paddingOuter":0}},"y":{"field":"v","type":"quantitative"},"stroke":{"condition":{"test":"datum.g==='WT'","value":"#000"},"value":"#8c8c8c"}}}
]}
]},
{"title":{"text":"Three-chamber Test PND 35","anchor":"middle","frame":"bounds","dx":10,"fontSize":13,"font":"Lato","fontWeight":"normal","offset":16},"bounds":"flush","spacing":55,"hconcat":[
{"width":97,"height":100,"title":{"text":"G","anchor":"start","frame":"group","dx":2,"offset":28,"fontSize":12,"fontWeight":"bold"},
"data":{"name":"G"},"resolve":{"scale":{"xOffset":"independent"}},
"layer":[
{"mark":{"type":"bar","stroke":"#999","strokeWidth":0.5},"encoding":{"x":{"field":"d","type":"nominal","scale":{"domain":["VEH","SR"],"paddingInner":0.38,"paddingOuter":0.07},"axis":{"labelAngle":-45,"labelAlign":"right","labelBaseline":"top","labelOverlap":false,"title":null}},"xOffset":{"field":"g","type":"nominal","scale":{"domain":["WT","KO"],"paddingInner":0.3,"paddingOuter":0}},"y":{"aggregate":"mean","field":"v","type":"quantitative","scale":{"domain":[0,150],"nice":false},"axis":{"values":[0,50,100,150],"tickCount":12,"labelOverlap":false,"title":"%Discrimination index (DI)"}},
"fill":{"condition":[{"test":"datum.g==='WT'","value":"#5f5f5f"},{"test":"datum.d==='VEH'","value":{"gradient":"linear","x1":0,"y1":0,"x2":0.322,"y2":1.184,"stops":[{"offset":0,"color":"#7a7a7a"},{"offset":0.05,"color":"#fff"},{"offset":0.1,"color":"#7a7a7a"},{"offset":0.15,"color":"#fff"},{"offset":0.2,"color":"#7a7a7a"},{"offset":0.25,"color":"#fff"},{"offset":0.3,"color":"#7a7a7a"},{"offset":0.35,"color":"#fff"},{"offset":0.4,"color":"#7a7a7a"},{"offset":0.45,"color":"#fff"},{"offset":0.5,"color":"#7a7a7a"},{"offset":0.55,"color":"#fff"},{"offset":0.6,"color":"#7a7a7a"},{"offset":0.65,"color":"#fff"},{"offset":0.7,"color":"#7a7a7a"},{"offset":0.75,"color":"#fff"},{"offset":0.8,"color":"#7a7a7a"},{"offset":0.85,"color":"#fff"},{"offset":0.9,"color":"#7a7a7a"},{"offset":0.95,"color":"#fff"},{"offset":1,"color":"#7a7a7a"}]}}],
"value":{"gradient":"linear","x1":0,"y1":0,"x2":0.268,"y2":1.168,"stops":[{"offset":0,"color":"#7a7a7a"},{"offset":0.05,"color":"#fff"},{"offset":0.1,"color":"#7a7a7a"},{"offset":0.15,"color":"#fff"},{"offset":0.2,"color":"#7a7a7a"},{"offset":0.25,"color":"#fff"},{"offset":0.3,"color":"#7a7a7a"},{"offset":0.35,"color":"#fff"},{"offset":0.4,"color":"#7a7a7a"},{"offset":0.45,"color":"#fff"},{"offset":0.5,"color":"#7a7a7a"},{"offset":0.55,"color":"#fff"},{"offset":0.6,"color":"#7a7a7a"},{"offset":0.65,"color":"#fff"},{"offset":0.7,"color":"#7a7a7a"},{"offset":0.75,"color":"#fff"},{"offset":0.8,"color":"#7a7a7a"},{"offset":0.85,"color":"#fff"},{"offset":0.9,"color":"#7a7a7a"},{"offset":0.95,"color":"#fff"},{"offset":1,"color":"#7a7a7a"}]}}}},
{"transform":[{"aggregate":[{"op":"mean","field":"v","as":"m"},{"op":"stderr","field":"v","as":"se"}],"groupby":["d","g"]},{"calculate":"datum.m + (datum.m < 0 ? -datum.se : datum.se)","as":"hi"}],
"encoding":{"x":{"field":"d","type":"nominal"},"xOffset":{"field":"g","type":"nominal","scale":{"domain":["WT","KO"],"paddingInner":0.3,"paddingOuter":0}}},
"layer":[{"mark":{"type":"rule","color":"#222","strokeWidth":1},"encoding":{"y":{"field":"m","type":"quantitative"},"y2":{"field":"hi"}}},{"mark":{"type":"tick","color":"#222","thickness":1,"size":6},"encoding":{"y":{"field":"hi","type":"quantitative"}}}]},
{"transform":[{"window":[{"op":"row_number","as":"rn"}],"groupby":["d","g"],"sort":[{"field":"v","order":"descending"}]},{"calculate":"datum.g + '_' + (datum.rn % 3)","as":"col"}],
"mark":{"type":"point","filled":true,"fill":"#fff","size":32,"strokeWidth":1.2,"opacity":1},
"encoding":{"x":{"field":"d","type":"nominal"},"xOffset":{"field":"col","type":"nominal","scale":{"domain":["WT_2","WT_1","WT_0","gap","KO_2","KO_1","KO_0"],"paddingInner":0,"paddingOuter":0}},"y":{"field":"v","type":"quantitative"},"stroke":{"condition":{"test":"datum.g==='WT'","value":"#000"},"value":"#8c8c8c"}}},
{"data":{"name":"sG"},"transform":[{"filter":"datum.s==='*'"}],"encoding":{"y":{"datum":130}},"layer":[
{"mark":{"type":"rule","strokeWidth":1.3,"color":"#000"},"encoding":{"x":{"field":"d1","type":"nominal","bandPosition":0.12},"x2":{"field":"d2","bandPosition":0.88}}},
{"mark":{"type":"text","baseline":"bottom","dy":-1,"fontSize":9,"fontWeight":"bold","font":"Liberation Sans"},"encoding":{"x":{"field":"d1","type":"nominal","bandPosition":0.5},"text":{"field":"s"}}}]},
{"data":{"name":"sG"},"transform":[{"filter":"datum.s==='#'"}],"encoding":{"y":{"datum":148.5}},"layer":[
{"mark":{"type":"rule","strokeWidth":1.3,"color":"#000"},"encoding":{"x":{"field":"d1","type":"nominal","bandPosition":0.79},"x2":{"field":"d2","bandPosition":0.91}}},
{"mark":{"type":"text","baseline":"bottom","dy":-1,"fontSize":8,"fontWeight":"bold","color":"#444","font":"Liberation Sans"},"encoding":{"x":{"field":"d2","type":"nominal","bandPosition":0.044},"text":{"field":"s"}}}]}
]},
{"width":112,"height":100,"title":{"text":"H","anchor":"start","frame":"group","dx":12,"offset":34,"fontSize":12,"fontWeight":"bold"},
"data":{"name":"H"},"resolve":{"scale":{"xOffset":"independent"}},
"layer":[
{"mark":{"type":"bar","stroke":"#999","strokeWidth":0.5},"encoding":{"x":{"field":"d","type":"nominal","scale":{"domain":["VEH","SR"],"paddingInner":0.364,"paddingOuter":0.18},"axis":{"labelAngle":-45,"labelAlign":"right","labelBaseline":"top","labelOverlap":false,"title":null}},"xOffset":{"field":"g","type":"nominal","scale":{"domain":["WT","KO"],"paddingInner":0.3,"paddingOuter":0}},"y":{"aggregate":"mean","field":"v","type":"quantitative","scale":{"domain":[0,600],"nice":false},"axis":{"values":[0,200,400,600],"tickCount":12,"labelOverlap":false,"title":"Time room stimulus (s)"}},
"fill":{"condition":[{"test":"datum.g==='WT'","value":"#5f5f5f"},{"test":"datum.d==='VEH'","value":{"gradient":"linear","x1":0,"y1":0,"x2":0.263,"y2":1.168,"stops":[{"offset":0,"color":"#7a7a7a"},{"offset":0.05,"color":"#fff"},{"offset":0.1,"color":"#7a7a7a"},{"offset":0.15,"color":"#fff"},{"offset":0.2,"color":"#7a7a7a"},{"offset":0.25,"color":"#fff"},{"offset":0.3,"color":"#7a7a7a"},{"offset":0.35,"color":"#fff"},{"offset":0.4,"color":"#7a7a7a"},{"offset":0.45,"color":"#fff"},{"offset":0.5,"color":"#7a7a7a"},{"offset":0.55,"color":"#fff"},{"offset":0.6,"color":"#7a7a7a"},{"offset":0.65,"color":"#fff"},{"offset":0.7,"color":"#7a7a7a"},{"offset":0.75,"color":"#fff"},{"offset":0.8,"color":"#7a7a7a"},{"offset":0.85,"color":"#fff"},{"offset":0.9,"color":"#7a7a7a"},{"offset":0.95,"color":"#fff"},{"offset":1,"color":"#7a7a7a"}]}}],
"value":{"gradient":"linear","x1":0,"y1":0,"x2":0.267,"y2":1.168,"stops":[{"offset":0,"color":"#7a7a7a"},{"offset":0.05,"color":"#fff"},{"offset":0.1,"color":"#7a7a7a"},{"offset":0.15,"color":"#fff"},{"offset":0.2,"color":"#7a7a7a"},{"offset":0.25,"color":"#fff"},{"offset":0.3,"color":"#7a7a7a"},{"offset":0.35,"color":"#fff"},{"offset":0.4,"color":"#7a7a7a"},{"offset":0.45,"color":"#fff"},{"offset":0.5,"color":"#7a7a7a"},{"offset":0.55,"color":"#fff"},{"offset":0.6,"color":"#7a7a7a"},{"offset":0.65,"color":"#fff"},{"offset":0.7,"color":"#7a7a7a"},{"offset":0.75,"color":"#fff"},{"offset":0.8,"color":"#7a7a7a"},{"offset":0.85,"color":"#fff"},{"offset":0.9,"color":"#7a7a7a"},{"offset":0.95,"color":"#fff"},{"offset":1,"color":"#7a7a7a"}]}}}},
{"transform":[{"aggregate":[{"op":"mean","field":"v","as":"m"},{"op":"stderr","field":"v","as":"se"}],"groupby":["d","g"]},{"calculate":"datum.m + (datum.m < 0 ? -datum.se : datum.se)","as":"hi"}],
"encoding":{"x":{"field":"d","type":"nominal"},"xOffset":{"field":"g","type":"nominal","scale":{"domain":["WT","KO"],"paddingInner":0.3,"paddingOuter":0}}},
"layer":[{"mark":{"type":"rule","color":"#222","strokeWidth":1},"encoding":{"y":{"field":"m","type":"quantitative"},"y2":{"field":"hi"}}},{"mark":{"type":"tick","color":"#222","thickness":1,"size":6},"encoding":{"y":{"field":"hi","type":"quantitative"}}}]},
{"transform":[{"window":[{"op":"row_number","as":"rn"}],"groupby":["d","g"],"sort":[{"field":"v","order":"descending"}]},{"calculate":"datum.g + '_' + (datum.rn % 3)","as":"col"}],
"mark":{"type":"point","filled":true,"fill":"#fff","size":32,"strokeWidth":1.2,"opacity":1},
"encoding":{"x":{"field":"d","type":"nominal"},"xOffset":{"field":"col","type":"nominal","scale":{"domain":["WT_2","WT_1","WT_0","gap","KO_2","KO_1","KO_0"],"paddingInner":0,"paddingOuter":0}},"y":{"field":"v","type":"quantitative"},"stroke":{"condition":{"test":"datum.g==='WT'","value":"#000"},"value":"#8c8c8c"}}}
]}
]},
{"width":10,"height":10,"data":{"name":"leg"},"layer":[
{"mark":{"type":"point","shape":"M-1,-0.6L1,-0.6L1,0.6L-1,0.6Z","size":100,"filled":true,"strokeWidth":0,"opacity":1},"encoding":{"y":{"field":"k","type":"nominal","sort":["WT","Fmr1Δexon8"],"scale":{"type":"point","range":[-19,-7],"padding":0},"axis":null},
"fill":{"condition":{"test":"datum.k==='WT'","value":"#5f5f5f"},"value":{"gradient":"linear","x1":0,"y1":0,"x2":1.176,"y2":0.706,"stops":[{"offset":0,"color":"#7a7a7a"},{"offset":0.1667,"color":"#fff"},{"offset":0.3333,"color":"#7a7a7a"},{"offset":0.5,"color":"#fff"},{"offset":0.6667,"color":"#7a7a7a"},{"offset":0.8333,"color":"#fff"},{"offset":1,"color":"#7a7a7a"}]}}}},
{"mark":{"type":"text","align":"left","dx":11,"fontSize":7,"fontWeight":"bold","font":"Liberation Sans","color":"#000"},"encoding":{"y":{"field":"k","type":"nominal","sort":["WT","Fmr1Δexon8"]},"text":{"field":"k"},"fontStyle":{"condition":{"test":"datum.k==='WT'","value":"normal"},"value":"italic"}}}
]}
]}
],
"spacing":20
}
